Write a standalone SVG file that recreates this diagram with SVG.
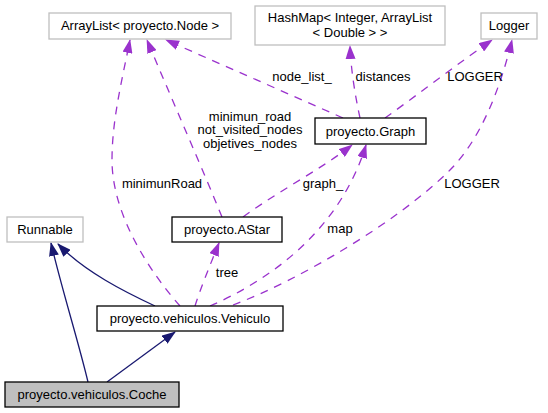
<svg xmlns="http://www.w3.org/2000/svg" width="548" height="413" viewBox="0 0 548 413">
<style>
  text { font-family: "Liberation Sans", Arial, Helvetica, sans-serif; font-size: 13px; fill: #000; text-anchor: middle; }
  .ext { fill: #fff; stroke: #bfbfbf; stroke-width: 1.3; }
  .doc { fill: #fff; stroke: #000; stroke-width: 1.3; }
  .cur { fill: #bfbfbf; stroke: #000; stroke-width: 1.3; }
  .inh { fill: none; stroke: #191970; stroke-width: 1.3; marker-end: url(#aInh); }
  .use { fill: none; stroke: #9a32cd; stroke-width: 1.3; stroke-dasharray: 8 7; marker-end: url(#aUse); }
</style>
<defs>
  <marker id="aInh" markerUnits="userSpaceOnUse" viewBox="0 0 14 10" markerWidth="14" markerHeight="10" refX="13" refY="5" orient="auto">
    <path d="M0,0 L14,5 L0,10 z" fill="#191970"/>
  </marker>
  <marker id="aUse" markerUnits="userSpaceOnUse" viewBox="0 0 14 10" markerWidth="14" markerHeight="10" refX="13" refY="5" orient="auto">
    <path d="M0,0 L14,5 L0,10 z" fill="#9a32cd"/>
  </marker>
</defs>

<g id="connectors">
  <path class="inh" d="M88,382 C78,340 62,290 51,243"/>
  <path class="inh" d="M107,382 L175,332"/>
  <path class="inh" d="M155,306 C125,292 85,272 58,244"/>
  <path class="use" d="M180,306 C150,272 112,215 112,160 C112,120 122,80 130,40"/>
  <path class="use" d="M222,217 C205,175 170,95 147,40"/>
  <path class="use" d="M243,217 C280,190 320,170 352,145"/>
  <path class="use" d="M210,306 C270,280 340,230 366,145"/>
  <path class="use" d="M233,305 C300,280 400,220 450,170 C480,140 500,90 512,40"/>
  <path class="use" d="M343,118 L166,40"/>
  <path class="use" d="M360,118 C355,95 351,70 350,46"/>
  <path class="use" d="M385,118 C420,93 460,62 492,40"/>
  <path class="use" d="M195,306 C200,290 210,265 219,243"/>
  <text x="162" y="188">minimunRoad</text>
  <text x="250" y="120.5">minimun_road</text>
  <text x="250" y="134">not_visited_nodes</text>
  <text x="250" y="147.5">objetives_nodes</text>
  <text x="302" y="81">node_list_</text>
  <text x="383" y="81">distances</text>
  <text x="475" y="81">LOGGER</text>
  <text x="323" y="188">graph_</text>
  <text x="340" y="233">map</text>
  <text x="472" y="188">LOGGER</text>
  <text x="227" y="277">tree</text>
</g>

<g id="node-arraylist">
  <rect class="ext" x="49" y="13" width="182" height="26"/>
  <text x="140" y="30">ArrayList&lt; proyecto.Node &gt;</text>
</g>
<g id="node-hashmap">
  <rect class="ext" x="255" y="6" width="190" height="39"/>
  <text x="350" y="22">HashMap&lt; Integer, ArrayList</text>
  <text x="350" y="37">&lt; Double &gt; &gt;</text>
</g>
<g id="node-logger">
  <rect class="ext" x="481" y="13" width="56" height="26"/>
  <text x="509" y="30">Logger</text>
</g>
<g id="node-graph">
  <rect class="doc" x="315" y="118" width="111" height="26"/>
  <text x="370.5" y="135.5">proyecto.Graph</text>
</g>
<g id="node-runnable">
  <rect class="ext" x="7" y="217" width="76" height="25"/>
  <text x="45" y="234">Runnable</text>
</g>
<g id="node-astar">
  <rect class="doc" x="172" y="217" width="110" height="25"/>
  <text x="227" y="234">proyecto.AStar</text>
</g>
<g id="node-vehiculo">
  <rect class="doc" x="97" y="306" width="186" height="25"/>
  <text x="190" y="323">proyecto.vehiculos.Vehiculo</text>
</g>
<g id="node-coche">
  <rect class="cur" x="5" y="382" width="174" height="25"/>
  <text x="92" y="399">proyecto.vehiculos.Coche</text>
</g>
</svg>
